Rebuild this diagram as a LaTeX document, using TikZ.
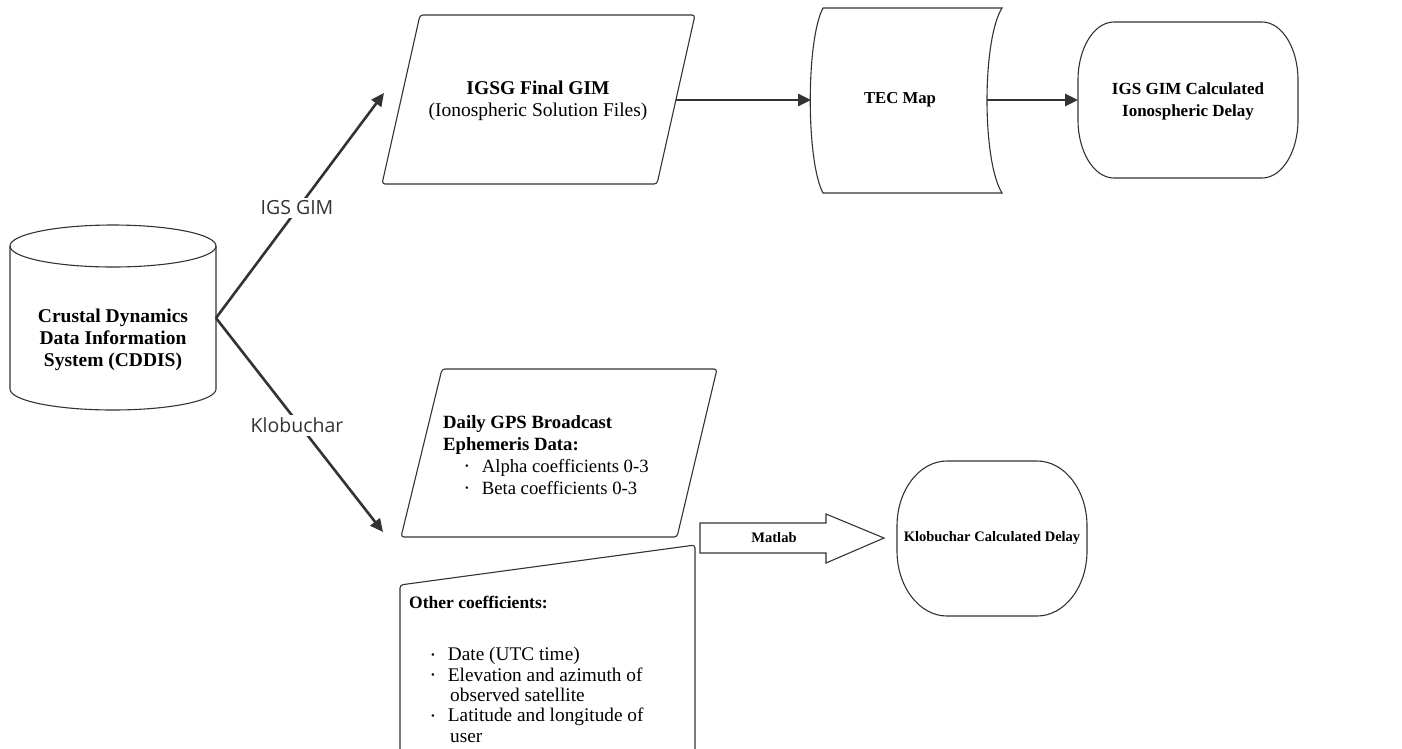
\documentclass[tikz,border=0pt]{standalone}
\usepackage{fontspec}
\setmainfont{Liberation Serif}
\newfontfamily\branchfont{Open Sans}
\usetikzlibrary{calc,arrows.meta}
\definecolor{inkgray}{HTML}{333333}
\newcommand{\linewd}{1.1pt}
\newcommand{\bodysize}{\fontsize{19.5}{22}\selectfont}
\newcommand{\dotitem}{\raisebox{0.3ex}{\scalebox{0.55}{\textbullet}}}

\begin{document}
\begin{tikzpicture}[x=1pt,y=-1pt,
    outline/.style={draw=inkgray, line width=\linewd, rounded corners=3pt},
    plainline/.style={draw=inkgray, line width=\linewd},
    txt/.style={inner sep=0pt, text=black, font=\bodysize},
    flow/.style={draw=inkgray, line width=2.6pt, -{Triangle[length=13pt,width=12pt]}},
    branchlabel/.style={fill=white, inner sep=3pt, text=inkgray,
      font=\branchfont\fontsize{19.5}{22}\selectfont}]
  \useasboundingbox (0,0) rectangle (1402,748);

      %% the data store on the left
      \draw[plainline] (10,246) -- (10,389)
        arc[start angle=180, end angle=360, x radius=103pt, y radius=21pt] -- (216,246);
      \draw[plainline] (113,246) ellipse [x radius=103pt, y radius=21pt];
      \node (cddis) at (113,340) [txt, align=center, font=\bodysize\bfseries]
        {Crustal Dynamics\\Data Information\\System (CDDIS)};
      \coordinate (fork) at (216,318);

      %% upper row: IGS GIM
      \draw[outline] (382,184) -- (420,15) -- (695,15) -- (657,184) -- cycle;
      \node (igsg) at (538,101) [txt, align=center]
        {\textbf{IGSG Final GIM}\\(Ionospheric Solution Files)};
      \coordinate (igsg in) at (384,93);
      \coordinate (igsg out) at (676,100);

      \draw[plainline] (823,8) -- (1002,8) .. controls (982,40) and (982,161) .. (1002,193)
        -- (823,193) .. controls (806,161) and (806,40) .. (823,8) -- cycle;
      \node (tec) at (900,100) [txt, font=\fontsize{16.7}{20}\selectfont\bfseries] {TEC Map};
      \coordinate (tec in) at (811,100);
      \coordinate (tec out) at (987,100);

      \draw[plainline] (1114,22) -- (1262,22)
        arc[start angle=90, end angle=0, x radius=36pt, y radius=58pt] -- (1298,120)
        arc[start angle=0, end angle=-90, x radius=36pt, y radius=58pt] -- (1114,178)
        arc[start angle=270, end angle=180, x radius=36pt, y radius=58pt] -- (1078,80)
        arc[start angle=180, end angle=90, x radius=36pt, y radius=58pt] -- cycle;
      \node (igs delay) at (1188,101) [txt, align=center, font=\fontsize{17}{22}\selectfont\bfseries]
        {IGS GIM Calculated\\Ionospheric Delay};
      \coordinate (igs delay in) at (1078,100);

      %% lower row: Klobuchar
      \draw[outline] (401,537) -- (442,369) -- (717,369) -- (677,537) -- cycle;
      \node (gps) at (443,415) [txt, anchor=north west, align=left, font=\fontsize{18.7}{22}\selectfont]
        {\textbf{Daily GPS Broadcast}\\\textbf{Ephemeris Data:}\\
         \hspace*{22pt}\dotitem\hspace{13pt}Alpha coefficients 0-3\\
         \hspace*{22pt}\dotitem\hspace{13pt}Beta coefficients 0-3};
      \coordinate (gps in) at (383,532);

      \draw[outline] (400,765) -- (400,585) -- (695,545) -- (695,765);
      \node (other) at (409,596) [txt, anchor=north west, align=left, font=\fontsize{19.3}{20.3}\selectfont]
        {{\fontsize{17.5}{20}\selectfont\bfseries Other coefficients:}\\[32pt]
         \hspace*{22pt}\dotitem\hspace{13pt}Date (UTC time)\\
         \hspace*{22pt}\dotitem\hspace{13pt}Elevation and azimuth of\\
         \hspace*{41pt}observed satellite\\
         \hspace*{22pt}\dotitem\hspace{13pt}Latitude and longitude of\\
         \hspace*{41pt}user};

      \draw[plainline] (700,523) -- (826,523) -- (826,514) -- (884,538)
        -- (826,563) -- (826,553) -- (700,553) -- cycle;
      \node (matlab) at (774,538) [txt, font=\fontsize{14.5}{17}\selectfont\bfseries] {Matlab};

      \draw[plainline] (947,461) -- (1037,461)
        arc[start angle=90, end angle=0, x radius=50pt, y radius=65pt] -- (1087,551)
        arc[start angle=0, end angle=-90, x radius=50pt, y radius=65pt] -- (947,616)
        arc[start angle=270, end angle=180, x radius=50pt, y radius=65pt] -- (897,526)
        arc[start angle=180, end angle=90, x radius=50pt, y radius=65pt] -- cycle;
      \node (klob delay) at (992,538) [txt, font=\fontsize{14.5}{17}\selectfont\bfseries]
        {Klobuchar Calculated Delay};

      %% connectors
      \foreach \t in {igsg in, gps in}
      { \draw[flow] (fork) -- (\t);}
      \draw[flow] (igsg out) -- (tec in);
      \draw[flow] (tec out) -- (igs delay in);
      \node (igs label) at (297,208) [branchlabel] {IGS GIM};
      \node (klob label) at (297,425) [branchlabel] {Klobuchar};
\end{tikzpicture}
\end{document}
